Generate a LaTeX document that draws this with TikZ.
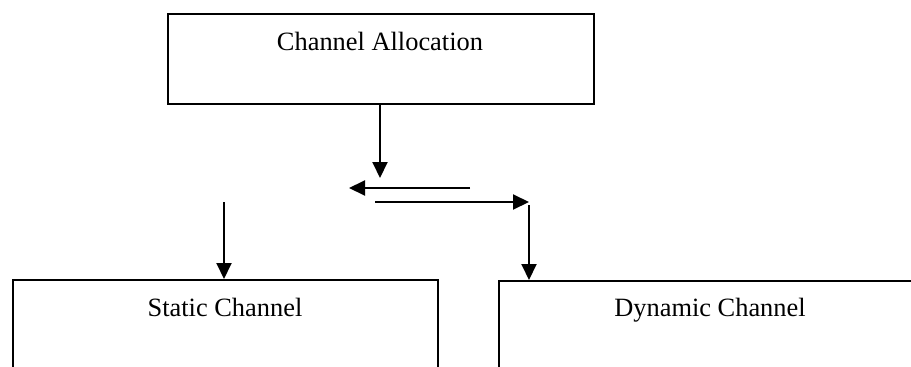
\documentclass[tikz,border=0pt]{standalone}
\usepackage{fontspec}
\setmainfont{Liberation Serif}
\usetikzlibrary{arrows.meta}
\begin{document}
\begin{tikzpicture}[x=1pt,y=-1pt,
  box/.style={draw, line width=2pt, inner sep=0pt, anchor=north west},
  lbl/.style={font=\fontsize{26.4}{30}\selectfont, anchor=base, inner sep=0pt},
  arr/.style={line width=2pt, -{Triangle[length=16pt,width=15pt]}},
  ln/.style={line width=2pt}]
\useasboundingbox (0,0) rectangle (911,367);
\clip (0,0) rectangle (911,367);
% boxes
\node[box, minimum width=426pt, minimum height=90pt] (alloc) at (167,13) {};
\node[box, minimum width=425pt, minimum height=150pt] (static) at (12,279) {};
\node[box, minimum width=450pt, minimum height=150pt] (dynamic) at (498,280) {};
% labels
\node[lbl] (allocT) at (380,50) {Channel Allocation};
\node[lbl] (staticT) at (225,316) {Static Channel};
\node[lbl] (dynamicT) at (710,316) {Dynamic Channel};
% free ends
\coordinate (a1) at (380,178);
\coordinate (l0) at (470,188);
\coordinate (l1) at (349,188);
\coordinate (r0) at (375,202);
\coordinate (r1) at (529,202);
\coordinate (s0) at (224,202);
\coordinate (d0) at (529,205);
% connectors
\draw[arr] (alloc.south -| a1) -- (a1);
\draw[arr] (l0) -- (l1);
\draw[arr] (r0) -- (r1);
\draw[arr] (d0) -- (dynamic.north -| d0);
\draw[arr] (s0) -- (static.north -| s0);
\end{tikzpicture}
\end{document}
